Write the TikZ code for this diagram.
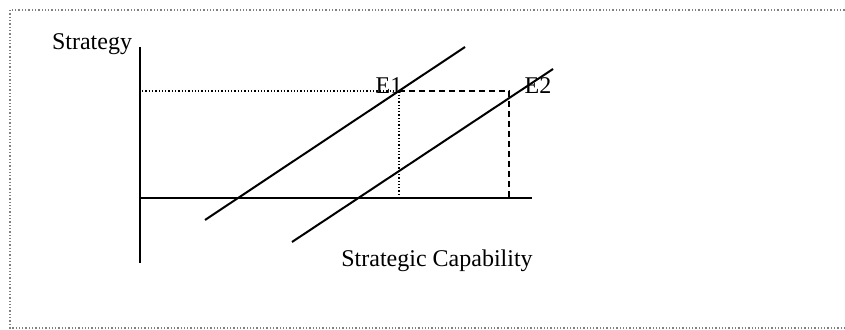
\documentclass[tikz,border=0pt]{standalone}
\usepackage{fontspec}
\setmainfont{Liberation Serif}
\usepackage{tikz}
\usetikzlibrary{arrows.meta,positioning}

\begin{document}
\begin{tikzpicture}[>=Latex, x=1pt, y=-1pt,
    axis/.style={line width=2.4pt},
    curve/.style={line width=2pt},
    guide/.style={dotted, line width=1.3pt},
    shiftline/.style={dashed, line width=2pt, dash pattern=on 6pt off 4pt},
    lbl/.style={inner sep=0pt, anchor=base, font=\fontsize{24}{28}\selectfont}]
      \useasboundingbox (0,0) rectangle (845,329);
      % outer frame
      \draw[gray, dotted, line width=1.3pt] (848,10) -- (10,10) -- (10,328) -- (848,328);
      % axes
      \coordinate (ytop) at (140,47);
      \coordinate (ybot) at (140,263);
      \coordinate (xbeg) at (140,198);
      \coordinate (xend) at (532,198);
      \draw[axis] (ytop) -- (ybot);
      \draw[axis] (xbeg) -- (xend);
      % two strategy lines
      \coordinate (a1) at (205,220);
      \coordinate (a2) at (465,47);
      \coordinate (b1) at (292,242);
      \coordinate (b2) at (553,69);
      \draw[curve] (a1) -- (a2);
      \draw[curve] (b1) -- (b2);
      % equilibrium points
      \coordinate (E1) at (399,91);
      \coordinate (E2) at (509,91);
      \coordinate (yE1) at (142,91);
      \coordinate (xE1) at (399,198);
      \coordinate (xE2) at (509,198);
      \draw[guide] (yE1) -- (E1) -- (xE1);
      \draw[shiftline] (E1) -- (E2) -- (xE2);
      % labels
      \node[lbl] (strategy) at (92,50) {Strategy};
      \node[lbl] (capability) at (437,266) {Strategic Capability};
      \node[lbl] (e1lbl) at (389,93) {E1};
      \node[lbl] (e2lbl) at (538,93) {E2};
    \end{tikzpicture}
\end{document}
